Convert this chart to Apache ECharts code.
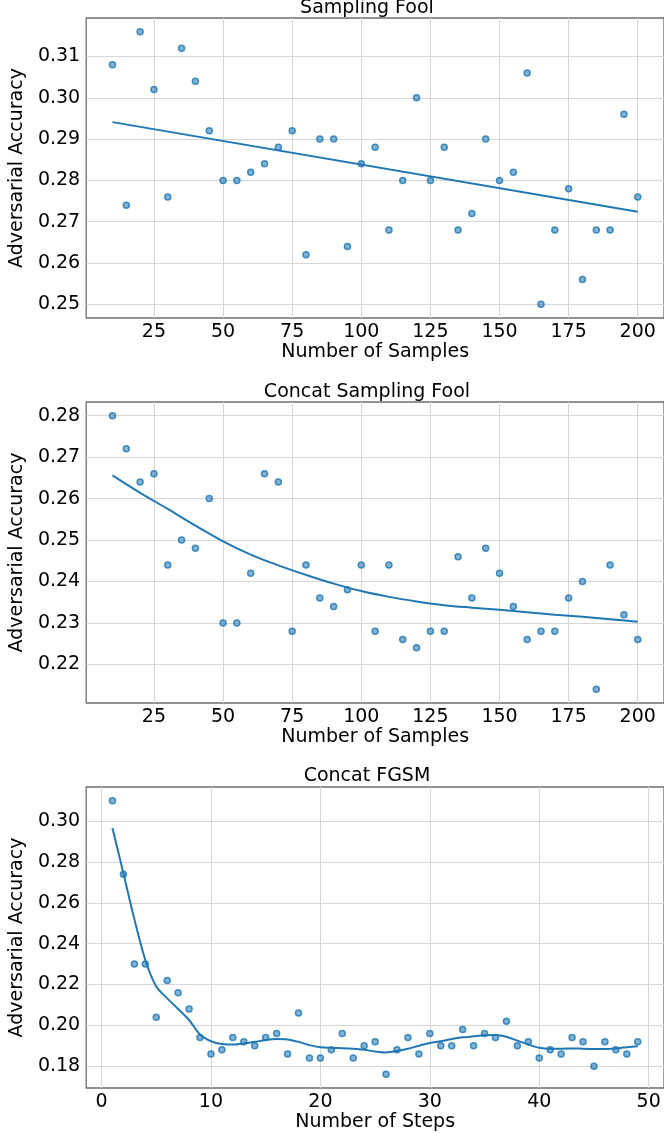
<!DOCTYPE html>
<html><head><meta charset="utf-8">
<script src="https://cdn.jsdelivr.net/npm/echarts@6/dist/echarts.min.js"></script>
<style>html,body{margin:0;padding:0;background:#fff}#c{width:664px;height:1133px}</style>
</head><body><div id="c"></div>
<script>
// ---------- data ----------
const titles = ['Sampling Fool', 'Concat Sampling Fool', 'Concat FGSM'];
const xNames = ['Number of Samples', 'Number of Samples', 'Number of Steps'];
const yName = 'Adversarial Accuracy';

const samplesX = [10,15,20,25,30,35,40,45,50,55,60,65,70,75,80,85,90,95,100,105,110,115,120,125,130,135,140,145,150,155,160,165,170,175,180,185,190,195,200];
const samplingFoolAcc = [0.308,0.274,0.316,0.302,0.276,0.312,0.304,0.292,0.280,0.280,0.282,0.284,0.288,0.292,0.262,0.290,0.290,0.264,0.284,0.288,0.268,0.280,0.300,0.280,0.288,0.268,0.272,0.290,0.280,0.282,0.306,0.250,0.268,0.278,0.256,0.268,0.268,0.296,0.276];
const samplingFoolFitX = [10, 200];
const samplingFoolFitY = [0.2941, 0.2724];

const concatSamplingAcc = [0.280,0.272,0.264,0.266,0.244,0.250,0.248,0.260,0.230,0.230,0.242,0.266,0.264,0.228,0.244,0.236,0.234,0.238,0.244,0.228,0.244,0.226,0.224,0.228,0.228,0.246,0.236,0.248,0.242,0.234,0.226,0.228,0.228,0.236,0.240,0.214,0.244,0.232,0.226];
const concatSamplingFitX = [10,20,30,40,50,60,70,80,90,100,110,120,130,140,150,160,170,180,190,200];
const concatSamplingFitY = [0.2656,0.2614,0.2575,0.2535,0.2497,0.2465,0.2439,0.2416,0.2395,0.2377,0.2363,0.2352,0.2343,0.2337,0.2332,0.2326,0.2320,0.2315,0.2309,0.2303];

const stepsX = [1,2,3,4,5,6,7,8,9,10,11,12,13,14,15,16,17,18,19,20,21,22,23,24,25,26,27,28,29,30,31,32,33,34,35,36,37,38,39,40,41,42,43,44,45,46,47,48,49];
const fgsmAcc = [0.310,0.274,0.230,0.230,0.204,0.222,0.216,0.208,0.194,0.186,0.188,0.194,0.192,0.190,0.194,0.196,0.186,0.206,0.184,0.184,0.188,0.196,0.184,0.190,0.192,0.176,0.188,0.194,0.186,0.196,0.190,0.190,0.198,0.190,0.196,0.194,0.202,0.190,0.192,0.184,0.188,0.186,0.194,0.192,0.180,0.192,0.188,0.186,0.192];
const fgsmFitY = [0.2965,0.2745,0.2520,0.2320,0.2190,0.2132,0.2080,0.2026,0.1955,0.1922,0.1908,0.1906,0.1911,0.1919,0.1928,0.1933,0.1931,0.1919,0.1903,0.1893,0.1890,0.1888,0.1885,0.1880,0.1872,0.1867,0.1874,0.1885,0.1900,0.1913,0.1922,0.1933,0.1941,0.1946,0.1951,0.1953,0.1944,0.1925,0.1906,0.1890,0.1885,0.1885,0.1887,0.1885,0.1884,0.1884,0.1887,0.1892,0.1898];

const xTicks1 = [25,50,75,100,125,150,175,200];
const xTicks3 = [0,10,20,30,40,50];
const yTicks1 = [0.25,0.26,0.27,0.28,0.29,0.30,0.31];
const yTicks2 = [0.22,0.23,0.24,0.25,0.26,0.27,0.28];
const yTicks3 = [0.18,0.20,0.22,0.24,0.26,0.28,0.30];

// ---------- chart ----------
const FONT = 'DejaVu Sans';
const BLUE = '#1f77b4';
const SPINE = '#6e6e6e';
const GRIDC = '#d6d6d6';
const zip = (a, b) => a.map((v, i) => [v, b[i]]);

const gridBoxes = [
  {top: 18, height: 300},
  {top: 402, height: 301},
  {top: 787, height: 301}
];
const xRanges = [[0.5, 209.5], [0.5, 209.5], [-1.4, 51.4]];
const yRanges = [[0.2467, 0.3193], [0.2107, 0.2833], [0.1693, 0.3167]];
const xTickSets = [xTicks1, xTicks1, xTicks3];
const yTickSets = [yTicks1, yTicks2, yTicks3];

const grid = gridBoxes.map(g => ({
  left: 69, width: 596, top: g.top, height: g.height,
  show: true, borderColor: SPINE, borderWidth: 1.3, backgroundColor: 'transparent'
}));

const xAxis = [0,1,2].map(i => ({
  type: 'value', gridIndex: i, min: xRanges[i][0], max: xRanges[i][1],
  name: xNames[i], nameLocation: 'middle', nameGap: 34,
  nameTextStyle: {fontFamily: FONT, fontSize: 19, color: '#000', verticalAlign: 'middle'},
  axisLine: {show: false, onZero: false},
  axisTick: {show: false, customValues: xTickSets[i]},
  axisLabel: {customValues: xTickSets[i], fontFamily: FONT, fontSize: 19, color: '#000', margin: 5,
    formatter: v => String(Math.round(v))},
  splitLine: {show: true, lineStyle: {color: GRIDC, width: 1}}
}));

const yAxis = [0,1,2].map(i => ({
  type: 'value', gridIndex: i, min: yRanges[i][0], max: yRanges[i][1],
  name: yName, nameLocation: 'middle', nameGap: 60, nameRotate: 90,
  nameTextStyle: {fontFamily: FONT, fontSize: 19, color: '#000', align: 'center', verticalAlign: 'middle'},
  axisLine: {show: false, onZero: false},
  axisTick: {show: false, customValues: yTickSets[i]},
  axisLabel: {customValues: yTickSets[i], fontFamily: FONT, fontSize: 19, color: '#000', margin: 6,
    formatter: v => v.toFixed(2)},
  splitLine: {show: true, lineStyle: {color: GRIDC, width: 1}}
}));

function scatter(i, xs, ys) {
  return {type: 'scatter', xAxisIndex: i, yAxisIndex: i, data: zip(xs, ys), symbolSize: 6, z: 2,
    itemStyle: {color: 'rgba(31,119,180,0.7)', borderColor: BLUE, borderWidth: 1.5}};
}
function fit(i, xs, ys, sm) {
  return {type: 'line', xAxisIndex: i, yAxisIndex: i, data: zip(xs, ys), showSymbol: false, symbol: 'none',
    smooth: sm, z: 3, lineStyle: {color: BLUE, width: 2}};
}

const titleY = [8.5, 392, 776];
const graphic = titles.map((t, i) => ({
  type: 'text', x: 367, y: titleY[i], z: 10,
  style: {text: t, font: '19px "DejaVu Sans"', fill: '#000', align: 'center', verticalAlign: 'middle'}
}));

const chart = echarts.init(document.getElementById('c'), null, {renderer: 'canvas'});
chart.setOption({
  animation: false,
  grid, xAxis, yAxis, graphic,
  series: [
    scatter(0, samplesX, samplingFoolAcc), fit(0, samplingFoolFitX, samplingFoolFitY, false),
    scatter(1, samplesX, concatSamplingAcc), fit(1, concatSamplingFitX, concatSamplingFitY, 0.4),
    scatter(2, stepsX, fgsmAcc), fit(2, stepsX, fgsmFitY, 0.3)
  ]
});
</script></body></html>
